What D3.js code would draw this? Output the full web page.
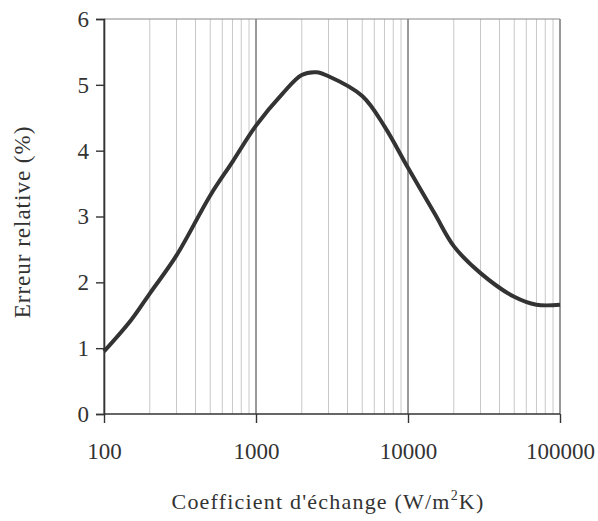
<!DOCTYPE html>
<html lang="fr">
<head>
    <meta charset="UTF-8">
    <title>Erreur relative</title>
    <script src="https://cdn.jsdelivr.net/npm/d3@7"></script>
    <style>
        body { margin: 0; background: white; }
        svg { display: block; }
        text { font-family: "Liberation Serif", "DejaVu Serif", serif; fill: #333; }
    </style>
</head>
<body>
    <svg id="chart" width="598" height="521"></svg>
    <script>
        // h (W/m2K) vs erreur relative (%)
        const hValues = [100, 150, 200, 300, 500, 700, 1000, 1500, 2000, 2500,
            3000, 5000, 7000, 10000, 15000, 20000, 30000, 50000, 70000, 100000]
        const errValues = [0.95, 1.42, 1.83, 2.41, 3.32, 3.83, 4.38, 4.87, 5.15, 5.19,
            5.13, 4.83, 4.37, 3.74, 3.04, 2.55, 2.14, 1.78, 1.66, 1.66]
        const xTicks = [100, 1000, 10000, 100000]
        const yTicks = [0, 1, 2, 3, 4, 5, 6]

        const svg = d3.select("#chart")
        const margin = {top: 19, right: 38, bottom: 107, left: 104}
        const width = 598 - margin.left - margin.right
        const height = 521 - margin.top - margin.bottom

        const x = d3.scaleLog().domain([100, 100000]).range([0, width])
        const y = d3.scaleLinear().domain([0, 6]).range([height, 0])

        const g = svg.append("g")
            .attr("transform", `translate(${margin.left},${margin.top})`)

        // minor grid lines (2..9 in each decade)
        const minor = []
        for (let d = 100; d < 100000; d *= 10) {
            for (let k = 2; k <= 9; k++) minor.push(d * k)
        }
        g.selectAll(".minor").data(minor).enter()
            .append("line")
            .attr("x1", d => x(d)).attr("x2", d => x(d))
            .attr("y1", 0).attr("y2", height)
            .attr("stroke", "#c8c8c8")
            .attr("stroke-width", 1)

        // decade lines
        g.selectAll(".major").data(xTicks).enter()
            .append("line")
            .attr("x1", d => x(d)).attr("x2", d => x(d))
            .attr("y1", 0).attr("y2", height)
            .attr("stroke", "#555")
            .attr("stroke-width", 1.2)

        // frame top
        g.append("line").attr("x1", 0).attr("x2", width).attr("y1", 0).attr("y2", 0)
            .attr("stroke", "#888").attr("stroke-width", 1.2)

        // axes
        const yAxis = d3.axisLeft(y).tickValues(yTicks).tickSize(8).tickPadding(7)
            .tickFormat(d3.format("d"))
        const xAxis = d3.axisBottom(x).tickValues(xTicks).tickSize(9).tickPadding(20)
            .tickFormat(d3.format("d"))

        const ya = g.append("g").call(yAxis)
        const xa = g.append("g").attr("transform", `translate(0,${height})`).call(xAxis)
        ;[ya, xa].forEach(a => {
            a.select(".domain").attr("stroke", "#333").attr("stroke-width", 1.6)
            a.selectAll(".tick line").attr("stroke", "#333").attr("stroke-width", 1.4)
            a.selectAll(".tick text")
                .style("font-family", "'Liberation Serif', serif")
                .style("font-size", "23px")
                .attr("fill", "#333")
        })
        xa.select(".domain").attr("d", `M0,0H${width}`)

        // the curve
        const line = d3.line()
            .x((d, i) => x(hValues[i]))
            .y(d => y(d))
            .curve(d3.curveCatmullRom.alpha(0.5))
        g.append("path")
            .datum(errValues)
            .attr("d", line)
            .attr("fill", "none")
            .attr("stroke", "#333")
            .attr("stroke-width", 4)
            .attr("stroke-linejoin", "round")

        // axis titles
        svg.append("text")
            .attr("transform", "translate(30,222) rotate(-90)")
            .attr("text-anchor", "middle")
            .style("font-size", "23px")
            .style("letter-spacing", "1px")
            .text("Erreur relative (%)")

        const xt = svg.append("text")
            .attr("x", 328).attr("y", 509)
            .attr("text-anchor", "middle")
            .style("font-size", "22px")
            .style("letter-spacing", "1.2px")
        xt.append("tspan").text("Coefficient d'échange (W/m")
        xt.append("tspan").attr("dy", -9).style("font-size", "14px").text("2")
        xt.append("tspan").attr("dy", 9).text("K)")
    </script>
</body>
</html>
